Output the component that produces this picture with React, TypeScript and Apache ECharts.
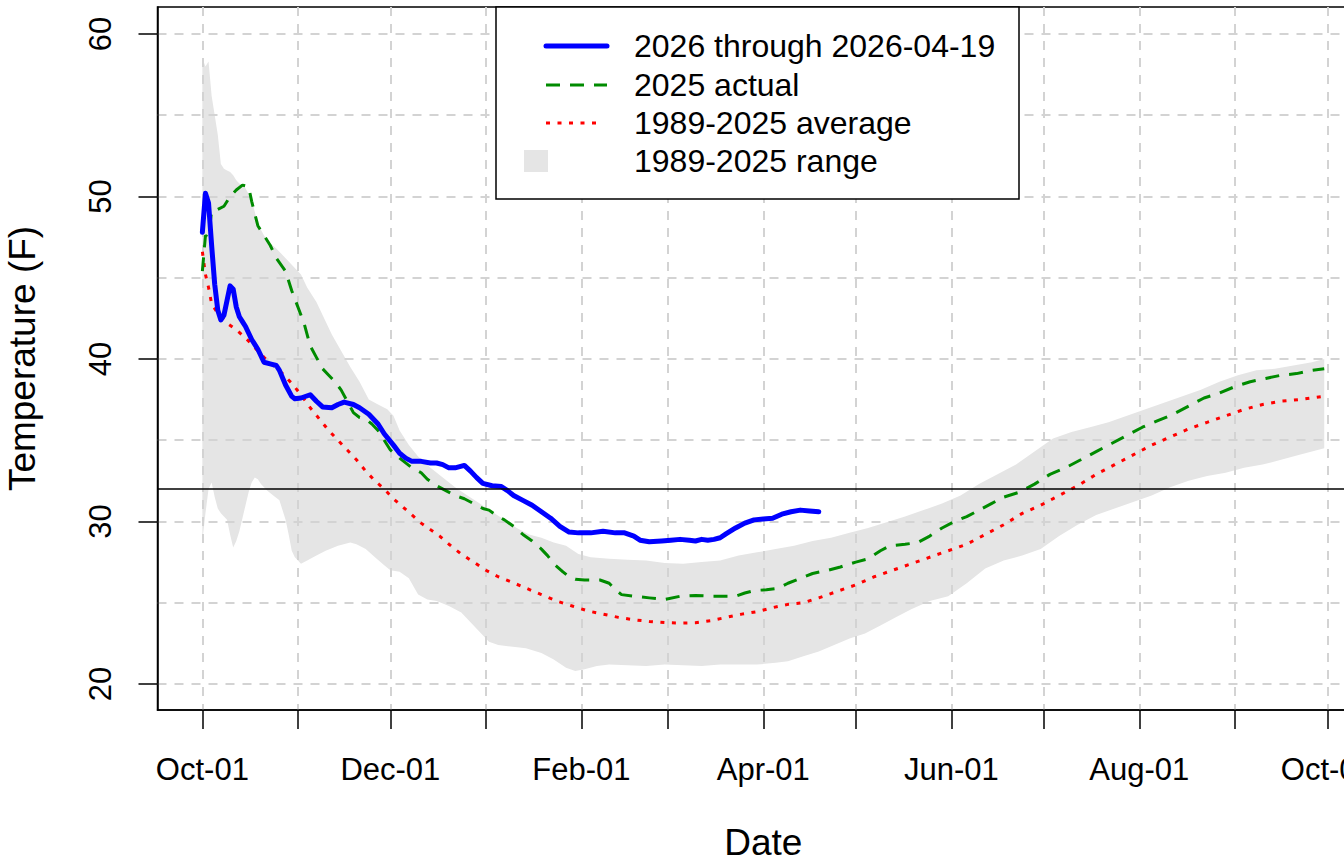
import React, { useEffect, useRef } from 'react';
import * as echarts from 'echarts';

// x values are days since Oct-01 (start of the season)
const monthStartDays = [0, 31, 61, 92, 123, 151, 182, 212, 243, 273, 304, 335, 365];
const labelDays = [0, 61, 123, 182, 243, 304, 365];
const labelTexts = ['Oct-01', 'Dec-01', 'Feb-01', 'Apr-01', 'Jun-01', 'Aug-01', 'Oct-01'];
const yTickValues = [20, 30, 40, 50, 60];
const yExtraGrid = [25, 35, 45, 55];
const freezingLine = 32;
const legendLabels = ['2026 through 2026-04-19', '2025 actual', '1989-2025 average', '1989-2025 range'];

const series2026: [number, number][] = [
  [0, 47.8], [1, 50.2], [2, 49.6], [3, 47.0], [4, 44.6], [5, 43.0], [6, 42.4], [7, 42.7], [8, 43.6],
  [9, 44.5], [10, 44.3], [11, 43.2], [12, 42.6], [13, 42.3], [14, 42.0], [15, 41.6], [16, 41.2],
  [17, 40.9], [18, 40.6], [19, 40.2], [20, 39.8], [22, 39.7], [24, 39.6], [25, 39.3], [27, 38.4],
  [29, 37.7], [30, 37.55], [32, 37.6], [35, 37.8], [37, 37.4], [39, 37.05], [42, 37.0], [44, 37.2],
  [46, 37.35], [49, 37.2], [51, 37.0], [54, 36.6], [57, 36.0], [59, 35.4], [62, 34.7], [64, 34.2],
  [66, 33.9], [68, 33.7], [71, 33.7], [74, 33.6], [76, 33.6], [78, 33.5], [80, 33.3], [82, 33.3],
  [85, 33.45], [87, 33.1], [89, 32.7], [91, 32.35], [94, 32.2], [97, 32.15], [99, 31.9], [101, 31.6],
  [104, 31.3], [107, 31.0], [110, 30.6], [113, 30.2], [116, 29.7], [119, 29.35], [122, 29.3],
  [126, 29.3], [130, 29.4], [134, 29.3], [137, 29.3], [140, 29.1], [142, 28.85], [145, 28.75],
  [149, 28.8], [152, 28.85], [155, 28.9], [158, 28.85], [160, 28.8], [162, 28.9], [164, 28.85],
  [166, 28.9], [168, 29.0], [170, 29.25], [173, 29.6], [176, 29.9], [179, 30.1], [182, 30.15],
  [185, 30.2], [188, 30.45], [191, 30.6], [194, 30.7], [197, 30.65], [200, 30.6],
];

const series2025: [number, number][] = [
  [0, 45.4], [1, 47.6], [2, 47.5], [3, 49.1], [5, 49.2], [7, 49.4], [9, 50.0], [11, 50.4], [13, 50.7],
  [15, 50.6], [16, 49.7], [18, 48.2], [20, 47.6], [22, 47.0], [24, 46.2], [27, 45.4], [29, 44.2],
  [31, 43.2], [33, 42.2], [35, 40.8], [37, 40.1], [39, 39.4], [41, 39.0], [43, 38.6], [45, 38.1],
  [47, 37.4], [49, 36.7], [51, 36.4], [53, 36.3], [55, 36.0], [57, 35.6], [59, 35.0], [61, 34.4],
  [64, 33.9], [68, 33.3], [71, 33.0], [73, 32.6], [76, 32.2], [79, 31.9], [82, 31.6], [85, 31.4],
  [88, 31.1], [91, 30.8], [93, 30.7], [96, 30.3], [98, 30.1], [101, 29.7], [104, 29.2], [107, 28.8],
  [110, 28.3], [112, 27.9], [114, 27.4], [117, 26.9], [119, 26.6], [121, 26.45], [124, 26.4],
  [129, 26.4], [132, 26.2], [134, 25.8], [136, 25.5], [140, 25.4], [145, 25.3], [150, 25.2],
  [155, 25.4], [160, 25.45], [165, 25.4], [170, 25.4], [173, 25.4], [176, 25.6], [179, 25.75],
  [183, 25.8], [187, 25.9], [190, 26.2], [194, 26.5], [198, 26.8], [203, 27.0], [207, 27.2],
  [212, 27.5], [216, 27.7], [220, 28.2], [223, 28.5], [228, 28.6], [232, 28.7], [236, 29.1],
  [240, 29.6], [244, 30.0], [248, 30.3], [252, 30.7], [256, 31.1], [260, 31.5], [265, 31.8],
  [270, 32.3], [275, 32.9], [280, 33.3], [285, 33.8], [290, 34.3], [295, 34.8], [300, 35.3],
  [305, 35.8], [310, 36.2], [315, 36.6], [320, 37.1], [325, 37.6], [330, 37.9], [335, 38.3],
  [340, 38.6], [345, 38.8], [350, 39.0], [355, 39.1], [360, 39.3], [364, 39.4],
];

const seriesAverage: [number, number][] = [
  [0, 46.6], [1, 45.2], [2, 44.4], [3, 43.4], [5, 42.8], [8, 42.2], [11, 41.8], [14, 41.3], [17, 40.7],
  [20, 40.1], [23, 39.6], [26, 39.1], [29, 38.5], [32, 37.8], [35, 37.0], [38, 36.3], [41, 35.6],
  [44, 35.0], [47, 34.4], [50, 33.8], [53, 33.1], [56, 32.5], [59, 32.0], [62, 31.4], [65, 30.9],
  [68, 30.4], [71, 29.9], [74, 29.5], [77, 29.1], [80, 28.6], [84, 28.0], [88, 27.5], [92, 27.0],
  [96, 26.6], [100, 26.3], [105, 25.9], [110, 25.5], [115, 25.1], [120, 24.8], [125, 24.5],
  [130, 24.3], [135, 24.1], [140, 23.95], [145, 23.85], [150, 23.78], [155, 23.75], [160, 23.77],
  [165, 23.9], [170, 24.1], [175, 24.3], [180, 24.45], [185, 24.7], [190, 24.9], [195, 25.0],
  [200, 25.3], [206, 25.7], [212, 26.1], [218, 26.6], [224, 27.0], [230, 27.4], [236, 27.8],
  [242, 28.2], [248, 28.6], [254, 29.2], [260, 29.8], [266, 30.5], [272, 31.0], [278, 31.6],
  [284, 32.2], [290, 32.9], [296, 33.5], [302, 34.1], [308, 34.7], [314, 35.2], [320, 35.7],
  [326, 36.1], [332, 36.5], [338, 36.9], [344, 37.2], [350, 37.4], [356, 37.5], [364, 37.7],
];

const rangeMax: [number, number][] = [
  [0, 58.5], [1, 58.0], [2, 58.3], [3, 56.2], [4, 55.0], [5, 53.8], [6, 52.0], [7, 51.7], [8, 51.6],
  [9, 51.5], [10, 51.3], [11, 51.0], [12, 50.8], [14, 50.5], [16, 49.8], [18, 48.3], [20, 47.6],
  [22, 47.1], [24, 46.8], [26, 46.4], [28, 46.0], [30, 45.6], [32, 45.2], [34, 44.4], [37, 43.5],
  [40, 42.3], [42, 41.5], [45, 40.5], [48, 39.5], [51, 38.6], [54, 37.5], [57, 37.2], [60, 36.9],
  [62, 36.5], [64, 35.6], [67, 34.7], [70, 34.0], [74, 33.3], [78, 32.7], [82, 32.1], [86, 31.6],
  [90, 31.1], [94, 30.6], [98, 30.1], [102, 29.6], [106, 29.2], [110, 29.0], [114, 28.7],
  [118, 28.5], [122, 28.0], [126, 27.8], [132, 27.7], [138, 27.65], [144, 27.6], [150, 27.45],
  [156, 27.4], [162, 27.5], [168, 27.6], [174, 27.9], [180, 28.1], [186, 28.3], [192, 28.5],
  [198, 28.8], [204, 29.0], [210, 29.3], [216, 29.6], [222, 29.95], [228, 30.3], [234, 30.7],
  [240, 31.1], [246, 31.6], [252, 32.3], [258, 32.9], [264, 33.5], [270, 34.3], [276, 35.1],
  [282, 35.5], [288, 35.8], [294, 36.1], [300, 36.5], [306, 36.9], [312, 37.3], [318, 37.7],
  [324, 38.1], [330, 38.6], [336, 39.0], [342, 39.3], [348, 39.4], [354, 39.6], [360, 39.8], [364, 40.0],
];

const rangeMin: [number, number][] = [
  [0, 28.8], [1, 30.5], [2, 32.0], [3, 32.4], [4, 31.5], [5, 30.8], [6, 30.5], [7, 30.3], [8, 30.1],
  [9, 29.2], [10, 28.4], [11, 28.8], [12, 29.4], [13, 30.2], [14, 31.0], [15, 31.8], [16, 32.4],
  [17, 32.7], [18, 32.6], [19, 32.3], [21, 31.9], [23, 31.6], [25, 31.3], [27, 30.1], [28, 29.2],
  [29, 28.2], [30, 27.8], [32, 27.4], [34, 27.6], [37, 27.9], [40, 28.2], [44, 28.5], [48, 28.7],
  [50, 28.6], [53, 28.3], [56, 27.8], [59, 27.3], [61, 27.0], [64, 26.9], [67, 26.5], [70, 25.5],
  [73, 25.2], [76, 25.1], [80, 24.8], [84, 24.4], [87, 23.8], [90, 23.2], [93, 22.6], [96, 22.4],
  [100, 22.3], [105, 22.2], [110, 21.9], [114, 21.5], [118, 21.0], [121, 20.8], [124, 20.9],
  [128, 21.1], [132, 21.2], [138, 21.15], [144, 21.1], [150, 21.2], [156, 21.15], [162, 21.1],
  [168, 21.2], [174, 21.2], [180, 21.2], [186, 21.3], [190, 21.4], [195, 21.7], [200, 22.0],
  [205, 22.4], [210, 22.8], [215, 23.1], [220, 23.6], [225, 24.1], [230, 24.6], [236, 25.1],
  [242, 25.4], [248, 26.2], [254, 27.1], [260, 27.6], [266, 27.9], [272, 28.3], [278, 29.1],
  [284, 29.8], [290, 30.4], [296, 30.8], [302, 31.2], [308, 31.6], [314, 32.1], [320, 32.5],
  [326, 32.8], [332, 33.0], [338, 33.3], [344, 33.5], [350, 33.8], [356, 34.1], [364, 34.5],
];

const FONT = '"Liberation Sans", Arial, Helvetica, sans-serif';
const GRID_COLOR = '#D3D3D3';
const BAND_COLOR = '#E5E5E5';
const BLUE = '#0000FF';
const GREEN = '#008B00';
const RED = '#FF0000';

export default function App() {
  const ref = useRef<HTMLDivElement>(null);

  useEffect(() => {
    if (!ref.current) return;
    const chart = echarts.init(ref.current, undefined, { renderer: 'svg' });

    const gridLineStyle = { color: GRID_COLOR, width: 2, type: [9, 8] as number[] };

    const legendRows = [46, 85, 123, 161];

    const option: any = {
      animation: false,
      backgroundColor: '#ffffff',
      textStyle: { fontFamily: FONT },
      grid: {
        left: 157.5,
        top: 7,
        right: -25.1,
        bottom: 155,
        show: true,
        borderColor: '#000',
        borderWidth: 1.5,
        backgroundColor: 'transparent',
        containLabel: false,
        outerBoundsMode: 'none',
      },
      xAxis: {
        type: 'value',
        min: -14.56,
        max: 378.56,
        z: 3,
        name: 'Date',
        nameLocation: 'middle',
        nameGap: 114,
        nameTextStyle: { fontSize: 37, color: '#000', fontFamily: FONT },
        axisLine: { show: true, onZero: false, lineStyle: { color: '#000', width: 1.5 } },
        axisTick: {
          show: true,
          customValues: monthStartDays,
          length: 19,
          lineStyle: { color: '#000', width: 1.5 },
        },
        axisLabel: {
          customValues: labelDays,
          formatter: (v: number) => {
            const i = labelDays.indexOf(Math.round(v));
            return i >= 0 ? labelTexts[i] : '';
          },
          fontSize: 31,
          color: '#000',
          margin: 44,
          fontFamily: FONT,
          hideOverlap: false,
        },
        splitLine: { show: true, lineStyle: gridLineStyle },
      },
      yAxis: {
        type: 'value',
        min: 18.4,
        max: 61.66,
        z: 3,
        name: 'Temperature (F)',
        nameLocation: 'middle',
        nameGap: 117,
        nameTextStyle: { fontSize: 37, color: '#000', fontFamily: FONT },
        axisLine: { show: true, onZero: false, lineStyle: { color: '#000', width: 1.5 } },
        axisTick: {
          show: true,
          customValues: yTickValues,
          length: 19,
          lineStyle: { color: '#000', width: 1.5 },
        },
        axisLabel: {
          customValues: yTickValues,
          rotate: 90,
          fontSize: 31,
          color: '#000',
          margin: 42,
          fontFamily: FONT,
        },
        splitLine: { show: true, lineStyle: gridLineStyle },
      },
      series: [
        {
          name: legendLabels[3],
          type: 'custom',
          z: 1,
          silent: true,
          data: [[0, 30]],
          renderItem: (_params: any, api: any) => {
            const pts: number[][] = [];
            for (const p of rangeMax) pts.push(api.coord(p));
            for (let i = rangeMin.length - 1; i >= 0; i--) pts.push(api.coord(rangeMin[i]));
            return {
              type: 'polygon',
              shape: { points: pts },
              style: { fill: BAND_COLOR, stroke: null },
            };
          },
        },
        {
          name: legendLabels[2],
          type: 'line',
          z: 8,
          data: seriesAverage,
          showSymbol: false,
          symbol: 'none',
          silent: true,
          lineStyle: { color: RED, width: 3, type: [4, 7.5], cap: 'butt' },
          emphasis: { disabled: true },
          markLine: {
            silent: true,
            symbol: 'none',
            z: 3,
            label: { show: false },
            emphasis: { disabled: true },
            data: yExtraGrid.map((v) => ({ yAxis: v, lineStyle: { ...gridLineStyle } })),
          },
        },
        {
          name: legendLabels[1],
          type: 'line',
          z: 9,
          data: series2025,
          showSymbol: false,
          symbol: 'none',
          silent: true,
          lineStyle: { color: GREEN, width: 3, type: [14, 10], cap: 'butt' },
          emphasis: { disabled: true },
        },
        {
          name: legendLabels[0],
          type: 'line',
          z: 10,
          data: series2026,
          showSymbol: false,
          symbol: 'none',
          silent: true,
          lineStyle: { color: BLUE, width: 5, cap: 'round', join: 'round' },
          emphasis: { disabled: true },
          markLine: {
            silent: true,
            symbol: 'none',
            z: 12,
            label: { show: false },
            emphasis: { disabled: true },
            data: [{ yAxis: freezingLine, lineStyle: { color: '#000', width: 1.5, type: 'solid' } }],
          },
        },
      ],
      graphic: [
        {
          type: 'rect',
          z: 100,
          shape: { x: 496, y: 7, width: 523, height: 192 },
          style: { fill: '#ffffff', stroke: '#000', lineWidth: 1.5 },
        },
        {
          type: 'line',
          z: 101,
          shape: { x1: 546, y1: legendRows[0], x2: 607, y2: legendRows[0] },
          style: { stroke: BLUE, lineWidth: 5, lineCap: 'round' },
        },
        {
          type: 'line',
          z: 101,
          shape: { x1: 546, y1: legendRows[1], x2: 607, y2: legendRows[1] },
          style: { stroke: GREEN, lineWidth: 3, lineDash: [14, 10] },
        },
        {
          type: 'line',
          z: 101,
          shape: { x1: 546, y1: legendRows[2], x2: 600, y2: legendRows[2] },
          style: { stroke: RED, lineWidth: 3, lineDash: [4, 7.5] },
        },
        {
          type: 'rect',
          z: 101,
          shape: { x: 524, y: 150, width: 24, height: 22 },
          style: { fill: BAND_COLOR },
        },
        ...legendLabels.map((t, i) => ({
          type: 'text',
          z: 101,
          x: 634,
          y: legendRows[i],
          style: {
            text: t,
            fontSize: 32,
            fontFamily: FONT,
            fill: '#000',
            align: 'left',
            verticalAlign: 'middle',
          },
        })),
      ],
    };

    chart.setOption(option);
    return () => {
      chart.dispose();
    };
  }, []);

  return (
    <div
      ref={ref}
      style={{ position: 'absolute', left: 0, top: 0, width: 1344, height: 865, background: '#fff' }}
    />
  );
}
